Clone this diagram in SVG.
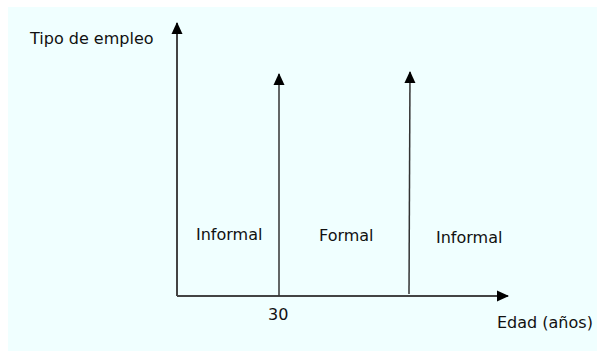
<svg xmlns="http://www.w3.org/2000/svg" width="602" height="356" viewBox="0 0 602 356">
<style>
text{font-family:"DejaVu Sans","Liberation Sans",sans-serif;font-size:16px;fill:#111}
.ax{stroke:#444;stroke-width:2;fill:none}
.dv{stroke:#333;stroke-width:1.5;fill:none}
</style>
<defs>
<marker id="ah" viewBox="0 0 12 12" refX="11" refY="6" markerWidth="12" markerHeight="12" markerUnits="userSpaceOnUse" orient="auto">
<path d="M0,0.5 L12,6 L0,11.5 Z" fill="#000"/>
</marker>
</defs>
<rect x="0" y="0" width="602" height="356" fill="#fff"/>
<rect x="8" y="7" width="589" height="344" fill="#f0ffff"/>
<g id="connectors">
<line class="ax" x1="177" y1="296" x2="177" y2="23" marker-end="url(#ah)"/>
<line class="ax" x1="177" y1="296" x2="508" y2="296" marker-end="url(#ah)"/>
<line class="dv" x1="279" y1="296" x2="279" y2="74" marker-end="url(#ah)"/>
<line class="dv" x1="409" y1="294" x2="410" y2="72" marker-end="url(#ah)"/>
</g>
<g id="y-label"><text x="30" y="44">Tipo de empleo</text></g>
<g id="x-label"><text x="497" y="328">Edad (años)</text></g>
<g id="tick-30"><text x="268" y="320">30</text></g>
<g id="informal-1"><text x="196" y="240">Informal</text></g>
<g id="formal"><text x="319" y="241">Formal</text></g>
<g id="informal-2"><text x="436" y="243">Informal</text></g>
</svg>
